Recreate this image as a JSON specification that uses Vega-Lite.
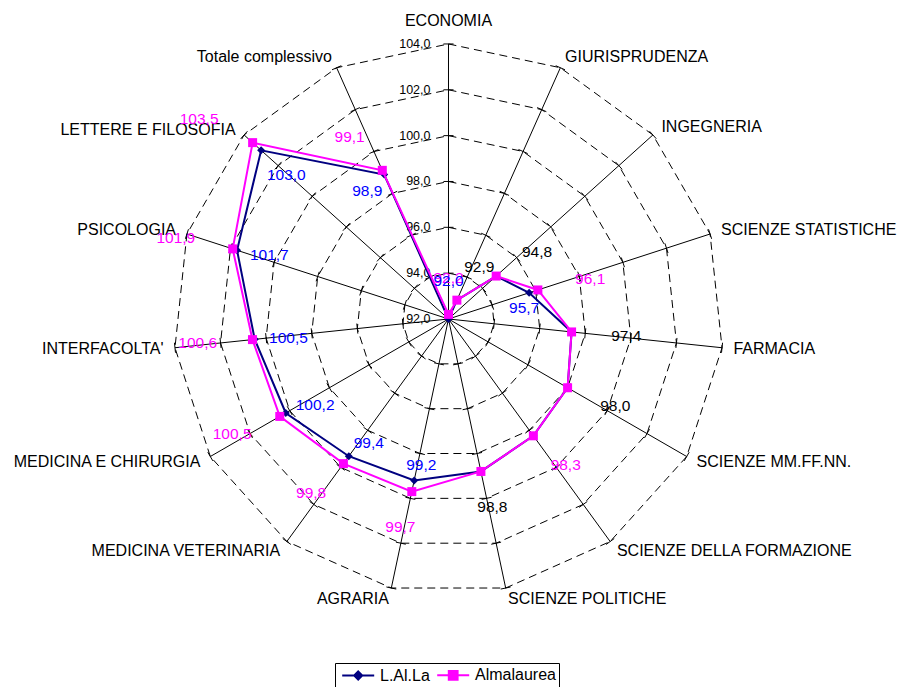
{
  "$schema": "https://vega.github.io/schema/vega-lite/v6.json",
  "width": 900,
  "height": 687,
  "padding": 0,
  "autosize": {"type": "none", "contains": "padding"},
  "background": "#ffffff",
  "config": {"view": {"stroke": null}, "font": "Liberation Sans"},
  "data": {
    "values": [
      {"facolta": "ECONOMIA", "LAlLa": 92.0, "Almalaurea": 92.2},
      {"facolta": "GIURISPRUDENZA", "LAlLa": 92.9, "Almalaurea": 92.9},
      {"facolta": "INGEGNERIA", "LAlLa": 94.8, "Almalaurea": 94.8},
      {"facolta": "SCIENZE STATISTICHE", "LAlLa": 95.7, "Almalaurea": 96.1},
      {"facolta": "FARMACIA", "LAlLa": 97.4, "Almalaurea": 97.4},
      {"facolta": "SCIENZE MM.FF.NN.", "LAlLa": 98.0, "Almalaurea": 98.0},
      {"facolta": "SCIENZE DELLA FORMAZIONE", "LAlLa": 98.3, "Almalaurea": 98.3},
      {"facolta": "SCIENZE POLITICHE", "LAlLa": 98.8, "Almalaurea": 98.8},
      {"facolta": "AGRARIA", "LAlLa": 99.2, "Almalaurea": 99.7},
      {"facolta": "MEDICINA VETERINARIA", "LAlLa": 99.4, "Almalaurea": 99.8},
      {"facolta": "MEDICINA E CHIRURGIA", "LAlLa": 100.2, "Almalaurea": 100.5},
      {"facolta": "INTERFACOLTA'", "LAlLa": 100.5, "Almalaurea": 100.6},
      {"facolta": "PSICOLOGIA", "LAlLa": 101.7, "Almalaurea": 101.9},
      {"facolta": "LETTERE E FILOSOFIA", "LAlLa": 103.0, "Almalaurea": 103.5},
      {"facolta": "Totale complessivo", "LAlLa": 98.9, "Almalaurea": 99.1}
    ]
  },
  "transform": [
    {"window": [{"op": "row_number", "as": "k"}]},
    {"calculate": "(datum.k-1)*2*PI/15", "as": "th"},
    {"calculate": "sin(datum.th)", "as": "s"},
    {"calculate": "cos(datum.th)", "as": "c"}
  ],
  "encoding": {
    "x": {"field": "x", "type": "quantitative", "scale": {"domain": [-19.568, 19.699], "nice": false, "zero": false}, "axis": null},
    "y": {"field": "y", "type": "quantitative", "scale": {"domain": [-16.056, 13.918], "nice": false, "zero": false}, "axis": null}
  },
  "layer": [
    {
      "transform": [
        {"calculate": "[94,96,98,100,102,104]", "as": "ring"},
        {"flatten": ["ring"]},
        {"calculate": "(datum.ring-92)*datum.s", "as": "x"},
        {"calculate": "(datum.ring-92)*datum.c", "as": "y"}
      ],
      "mark": {"type": "line", "interpolate": "linear-closed", "color": "#000000", "strokeWidth": 1, "strokeDash": [8, 5]},
      "encoding": {"detail": {"field": "ring", "type": "nominal"}, "order": {"field": "k", "type": "quantitative"}}
    },
    {
      "transform": [
        {"calculate": "0", "as": "x"},
        {"calculate": "0", "as": "y"},
        {"calculate": "12*datum.s", "as": "x2"},
        {"calculate": "12*datum.c", "as": "y2"}
      ],
      "mark": {"type": "rule", "color": "#000000", "strokeWidth": 1},
      "encoding": {"x2": {"field": "x2"}, "y2": {"field": "y2"}}
    },
    {
      "transform": [
        {"calculate": "[2,4,6,8,10,12]", "as": "rr"},
        {"flatten": ["rr"]},
        {"calculate": "datum.rr*datum.s+0.22*datum.c", "as": "x"},
        {"calculate": "datum.rr*datum.c-0.22*datum.s", "as": "y"},
        {"calculate": "datum.rr*datum.s-0.22*datum.c", "as": "x2"},
        {"calculate": "datum.rr*datum.c+0.22*datum.s", "as": "y2"}
      ],
      "mark": {"type": "rule", "color": "#000000", "strokeWidth": 1},
      "encoding": {"x2": {"field": "x2"}, "y2": {"field": "y2"}}
    },
    {
      "transform": [
        {"filter": "datum.k==1"},
        {"calculate": "[92,94,96,98,100,102,104]", "as": "ring"},
        {"flatten": ["ring"]},
        {"calculate": "0", "as": "x"},
        {"calculate": "datum.ring-92", "as": "y"},
        {"calculate": "replace(format(datum.ring,'.1f'),'.',',')", "as": "t"}
      ],
      "mark": {"type": "text", "align": "right", "baseline": "middle", "dx": -18, "fontSize": 12.5, "color": "#000000"},
      "encoding": {"text": {"field": "t"}}
    },
    {
      "transform": [
        {"fold": ["LAlLa", "Almalaurea"], "as": ["key", "v"]},
        {"calculate": "datum.key=='LAlLa'?'L.Al.La':'Almalaurea'", "as": "serie"},
        {"calculate": "(datum.v-92)*datum.s", "as": "x"},
        {"calculate": "(datum.v-92)*datum.c", "as": "y"}
      ],
      "layer": [
        {
          "transform": [{"filter": "datum.serie=='L.Al.La'"}],
          "mark": {"type": "line", "interpolate": "linear-closed", "strokeWidth": 2},
          "encoding": {
            "color": {
              "field": "serie", "type": "nominal",
              "scale": {"domain": ["L.Al.La", "Almalaurea"], "range": ["#000080", "#FF00FF"]},
              "legend": {
                "title": null, "orient": "none", "legendX": 335, "legendY": 663, "direction": "horizontal",
                "strokeColor": "#000000", "fillColor": "#ffffff", "padding": 3,
                "labelFont": "Liberation Sans", "labelFontSize": 16, "labelColor": "#000000",
                "symbolSize": 256, "labelOffset": 24, "columnPadding": 3, "symbolStrokeWidth": 2,
                "encode": {
                  "symbols": {
                    "update": {
                      "shape": {"signal": "datum.value==='L.Al.La' ? 'M-0.6,0H3.4M1.4,-0.5L1.9,0L1.4,0.5L0.9,0Z' : 'M-0.6,0H3.4M0.85,-0.55H1.95V0.55H0.85Z'"},
                      "fill": {"signal": "datum.value==='L.Al.La' ? '#000080' : '#FF00FF'"},
                      "stroke": {"signal": "datum.value==='L.Al.La' ? '#000080' : '#FF00FF'"},
                      "strokeWidth": {"value": 2},
                      "opacity": {"value": 1}
                    }
                  }
                }
              }
            },
            "order": {"field": "k", "type": "quantitative"}
          }
        },
        {
          "transform": [{"filter": "datum.serie=='L.Al.La'"}],
          "mark": {"type": "point", "shape": "diamond", "filled": true, "size": 64, "color": "#000080", "opacity": 1}
        },
        {
          "transform": [{"filter": "datum.serie=='Almalaurea'"}],
          "mark": {"type": "line", "interpolate": "linear-closed", "strokeWidth": 2},
          "encoding": {
            "color": {
              "field": "serie", "type": "nominal",
              "scale": {"domain": ["L.Al.La", "Almalaurea"], "range": ["#000080", "#FF00FF"]},
              "legend": {
                "title": null, "orient": "none", "legendX": 335, "legendY": 663, "direction": "horizontal",
                "strokeColor": "#000000", "fillColor": "#ffffff", "padding": 3,
                "labelFont": "Liberation Sans", "labelFontSize": 16, "labelColor": "#000000",
                "symbolSize": 256, "labelOffset": 24, "columnPadding": 3, "symbolStrokeWidth": 2,
                "encode": {
                  "symbols": {
                    "update": {
                      "shape": {"signal": "datum.value==='L.Al.La' ? 'M-0.6,0H3.4M1.4,-0.5L1.9,0L1.4,0.5L0.9,0Z' : 'M-0.6,0H3.4M0.85,-0.55H1.95V0.55H0.85Z'"},
                      "fill": {"signal": "datum.value==='L.Al.La' ? '#000080' : '#FF00FF'"},
                      "stroke": {"signal": "datum.value==='L.Al.La' ? '#000080' : '#FF00FF'"},
                      "strokeWidth": {"value": 2},
                      "opacity": {"value": 1}
                    }
                  }
                }
              }
            },
            "order": {"field": "k", "type": "quantitative"}
          }
        },
        {
          "transform": [{"filter": "datum.serie=='Almalaurea'"}],
          "mark": {"type": "point", "shape": "square", "filled": true, "size": 81, "color": "#FF00FF", "opacity": 1}
        }
      ]
    },
    {
      "transform": [
        {"filter": "datum.s>0.01"},
        {"calculate": "12.5*datum.s", "as": "x"},
        {"calculate": "12.5*datum.c", "as": "y"}
      ],
      "mark": {"type": "text", "align": "left", "baseline": "middle", "fontSize": 16, "color": "#000000"},
      "encoding": {"text": {"field": "facolta"}}
    },
    {
      "transform": [
        {"filter": "datum.s<-0.01"},
        {"calculate": "12.5*datum.s", "as": "x"},
        {"calculate": "12.5*datum.c - (datum.k==14 ? 0.12 : 0)", "as": "y"}
      ],
      "mark": {"type": "text", "align": "right", "baseline": "middle", "fontSize": 16, "color": "#000000"},
      "encoding": {"text": {"field": "facolta"}}
    },
    {
      "transform": [
        {"filter": "abs(datum.s)<=0.01"},
        {"calculate": "0", "as": "x"},
        {"calculate": "13.0", "as": "y"}
      ],
      "mark": {"type": "text", "align": "center", "baseline": "middle", "fontSize": 16, "color": "#000000"},
      "encoding": {"text": {"field": "facolta"}}
    },
    {
      "transform": [
        {"calculate": "datum.Almalaurea-92", "as": "ra"},
        {"calculate": "(datum.ra+2.4)*datum.s - (datum.k==14 ? 0.55 : datum.k==15 ? 0.45 : datum.k==13 ? 0.2 : 0)", "as": "x"},
        {"calculate": "(datum.ra+1.57)*datum.c", "as": "y"},
        {"calculate": "replace(format(datum.Almalaurea,'.1f'),'.',',')", "as": "t"}
      ],
      "mark": {"type": "text", "align": "center", "baseline": "middle", "fontSize": 15.5},
      "encoding": {
        "text": {"field": "t"},
        "color": {"condition": {"test": "datum.LAlLa==datum.Almalaurea && datum.facolta!='SCIENZE DELLA FORMAZIONE'", "value": "#000000"}, "value": "#FF00FF"}
      }
    },
    {
      "transform": [
        {"filter": "datum.LAlLa!=datum.Almalaurea"},
        {"calculate": "datum.LAlLa-92", "as": "rl"},
        {"calculate": "datum.k==1 ? 0 : datum.k==4 ? datum.rl*datum.s-0.22 : datum.k==15 ? datum.rl*datum.s-0.74 : (datum.rl-1.48)*datum.s", "as": "x"},
        {"calculate": "datum.k==1 ? 1.66 : datum.k==4 ? datum.rl*datum.c-0.65 : datum.k==15 ? datum.rl*datum.c-0.7 : datum.k==14 ? datum.rl*datum.c-1.09 : (datum.rl-0.7)*datum.c", "as": "y"},
        {"calculate": "replace(format(datum.LAlLa,'.1f'),'.',',')", "as": "t"}
      ],
      "mark": {"type": "text", "align": "center", "baseline": "middle", "fontSize": 15.5, "color": "#0000FF"},
      "encoding": {"text": {"field": "t"}}
    }
  ]
}
